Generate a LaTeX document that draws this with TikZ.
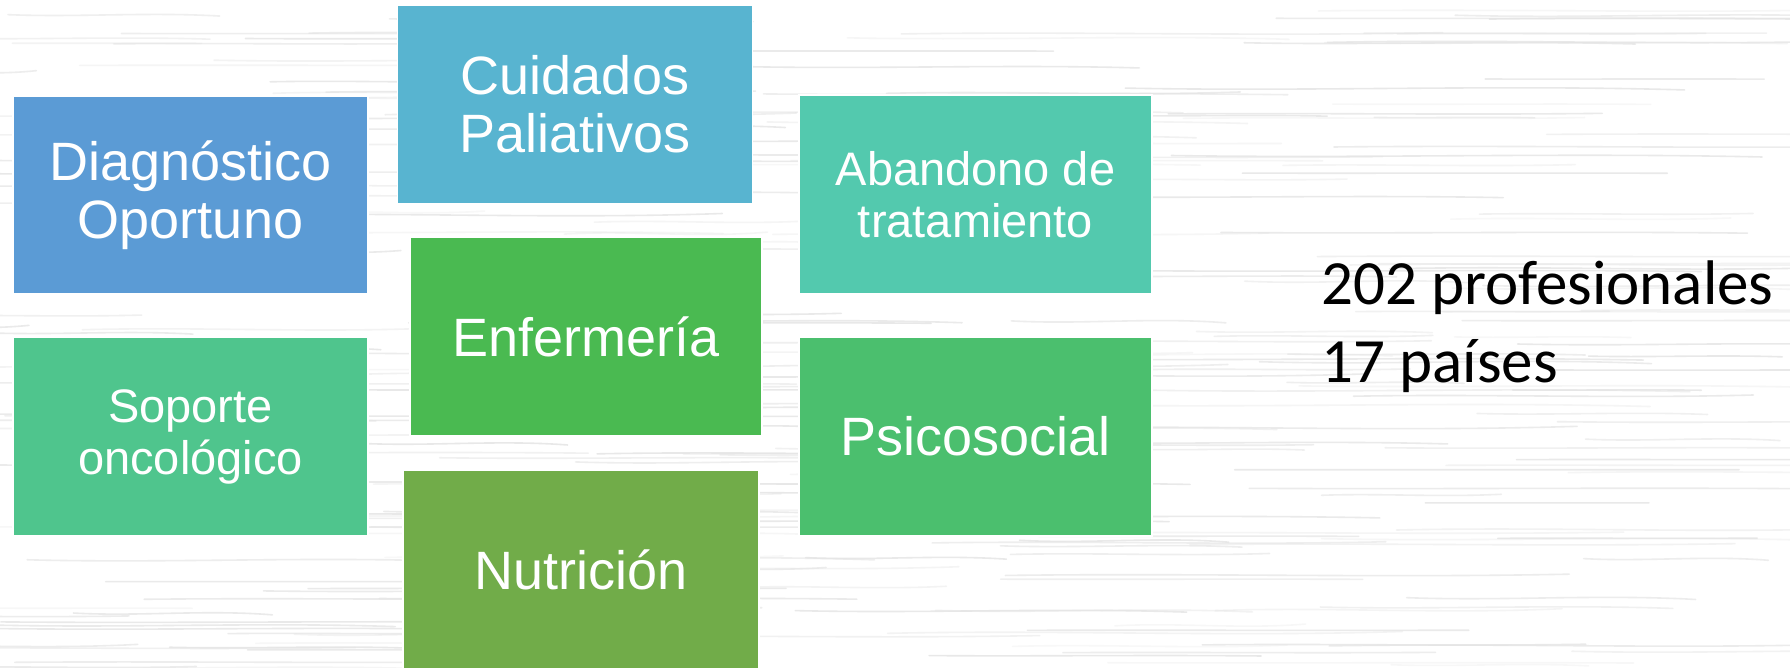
\documentclass[tikz,border=0pt]{standalone}
\usepackage{fontspec}
\setmainfont{Liberation Sans}
\newfontfamily\calfont{Carlito}
\definecolor{cDiag}{HTML}{5B9BD5}
\definecolor{cCuid}{HTML}{58B4D0}
\definecolor{cAban}{HTML}{53C9AE}
\definecolor{cEnf}{HTML}{4ABA51}
\definecolor{cSop}{HTML}{4FC58D}
\definecolor{cPsi}{HTML}{4BBF6E}
\definecolor{cNut}{HTML}{71AC49}
\definecolor{grain}{HTML}{E4E4E4}
\tikzset{
  tile/.style={draw=white, line width=1.2pt, fill=#1, text=white, align=center,
    inner sep=0pt, outer sep=0pt},
  big/.style={font=\fontsize{54}{58}\selectfont},
  small/.style={font=\fontsize{47}{52}\selectfont},
}
\begin{document}
\begin{tikzpicture}[x=1pt,y=-1pt]
\useasboundingbox (0,0) rectangle (1790,668);
\fill[white] (0,0) rectangle (1790,668);
% wood grain background
\pgfmathsetseed{17}
\foreach \i in {1,...,260}{
  \pgfmathsetmacro{\yy}{rnd*668}
  \pgfmathsetmacro{\xx}{rnd*1790-200}
  \pgfmathsetmacro{\ll}{150+rnd*450}
  \pgfmathsetmacro{\dy}{(rnd-0.5)*8}
  \pgfmathsetmacro{\op}{0.25+rnd*0.6}
  \draw[grain, line width=1.6pt, opacity=\op, line cap=round]
    (\xx,\yy) .. controls (\xx+\ll*0.33,\yy+\dy) and (\xx+\ll*0.66,\yy-\dy) .. (\xx+\ll,\yy+\dy*0.5);
}
% tiles
\node[tile=cDiag, big, minimum width=355pt, minimum height=198pt] (diag) at (190.5,195) {Diagnóstico\\Oportuno};
\node[tile=cCuid, big, minimum width=355pt, minimum height=199pt] (cuid) at (575,104.5) {Cuidados\\Paliativos};
\node[tile=cAban, small, minimum width=353pt, minimum height=199pt] (aban) at (975.5,194.5) {Abandono de\\tratamiento};
\node[tile=cEnf, big, minimum width=352pt, minimum height=199pt] (enf) at (586,336.5) {Enfermería};
\node[tile=cSop, small, minimum width=355pt, minimum height=199pt] (sop) at (190.5,436.5) {Soporte\\oncológico};
\node[tile=cPsi, big, minimum width=353pt, minimum height=199pt] (psi) at (975.5,436.5) {Psicosocial};
\node[tile=cNut, big, minimum width=356pt, minimum height=199pt] (nut) at (581,569.5) {Nutrición};
% side text
\node[anchor=base west, inner sep=0pt, font=\calfont\fontsize{63}{77}\selectfont] (prof) at (1321,305) {202 profesionales};
\node[anchor=base west, inner sep=0pt, font=\calfont\fontsize{63}{77}\selectfont] (pais) at (1321,382) {17 países};
\end{tikzpicture}
\end{document}
